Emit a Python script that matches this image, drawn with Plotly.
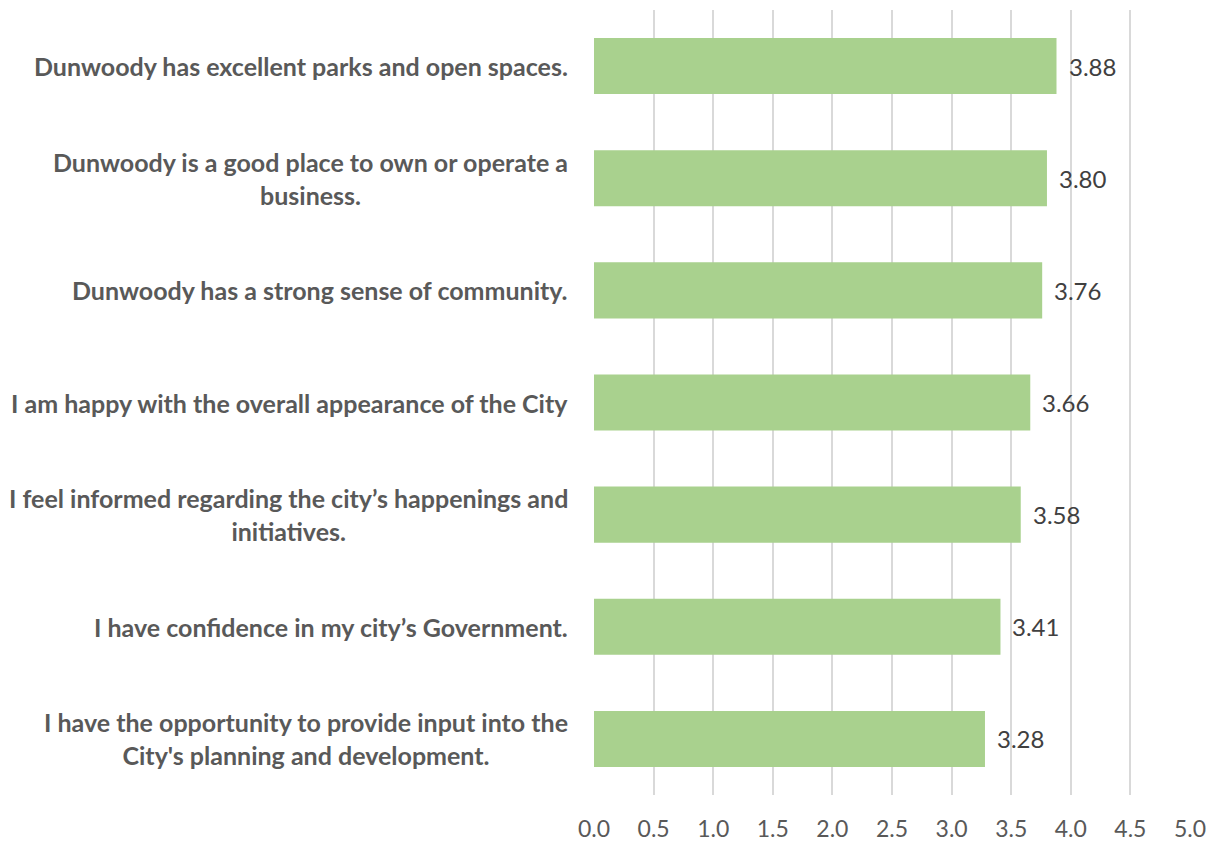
import plotly.graph_objects as go

categories = [
    "I have the opportunity to provide input into the<br>City's planning and development.",
    "I have confidence in my city’s Government.",
    "I feel informed regarding the city’s happenings and<br>initiatives.",
    "I am happy with the overall appearance of the City",
    "Dunwoody has a strong sense of community.",
    "Dunwoody is a good place to own or operate a<br>business.",
    "Dunwoody has excellent parks and open spaces.",
]
values = [3.28, 3.41, 3.58, 3.66, 3.76, 3.80, 3.88]
tick_vals = [0, 0.5, 1, 1.5, 2, 2.5, 3, 3.5, 4, 4.5, 5]

fig = go.Figure()
fig.add_trace(go.Bar(
    y=list(range(len(categories))),
    x=values,
    orientation="h",
    width=0.5,
    marker=dict(color="#a9d18e", line=dict(width=0)),
    hoverinfo="skip",
))

for i, (c, v) in enumerate(zip(categories, values)):
    fig.add_annotation(
        x=0, y=i, xref="x", yref="y",
        text=f"<b>{c}</b>",
        showarrow=False,
        xanchor="right", yanchor="middle",
        align="center",
        xshift=-24,
        font=dict(family="Lato", size=25, color="#595959"),
    )
    fig.add_annotation(
        x=v, y=i, xref="x", yref="y",
        text=f"{v:.2f}",
        showarrow=False,
        xanchor="left", yanchor="middle",
        xshift=10,
        font=dict(family="Lato", size=24, color="#404040"),
    )

fig.update_layout(
    width=1206, height=836,
    margin=dict(l=586, r=24, t=2, b=47),
    paper_bgcolor="white", plot_bgcolor="white",
    showlegend=False,
    xaxis=dict(
        range=[0, 5], tickvals=tick_vals, ticktext=[f"{t:.1f}" for t in tick_vals],
        showgrid=True, gridcolor="#d9d9d9", gridwidth=1.5,
        zeroline=False, showline=False,
        tickfont=dict(family="Lato", size=23, color="#595959"),
        ticks="outside", ticklen=13, tickcolor="rgba(0,0,0,0)",
    ),
    yaxis=dict(
        range=[-0.5, len(categories) - 0.5],
        showticklabels=False, showgrid=False, zeroline=False, showline=False,
    ),
)

fig.write_html("out.html")
